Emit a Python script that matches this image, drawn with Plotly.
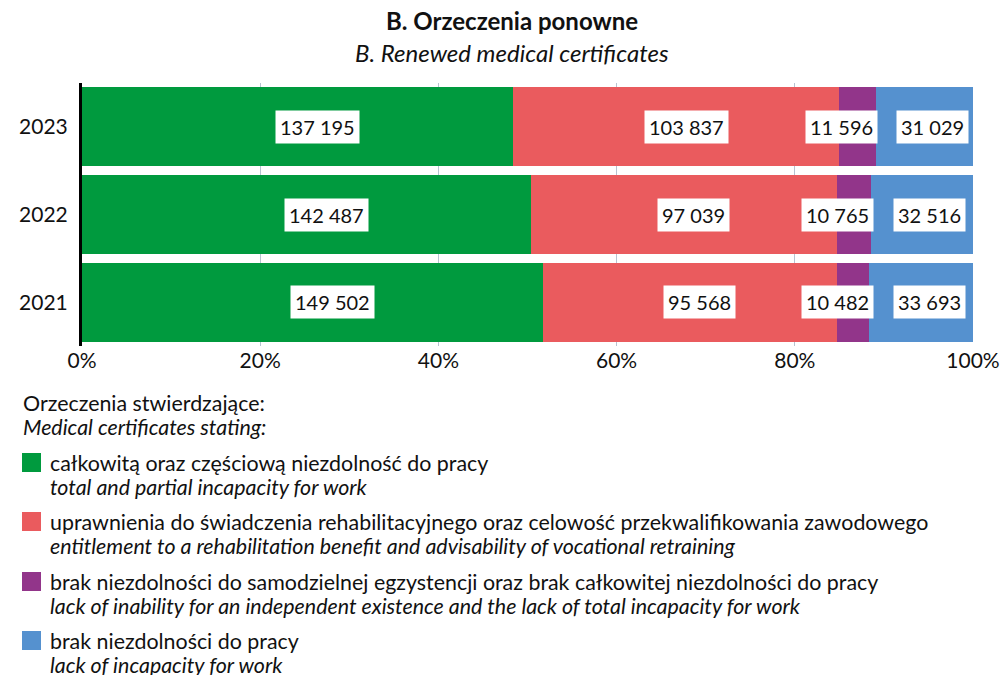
import numpy as np
import plotly.graph_objects as go

# --- data ---------------------------------------------------------------
years = ["2021", "2022", "2023"]

total_partial = [149502, 142487, 137195]
rehab_retraining = [95568, 97039, 103837]
no_independent_inability = [10482, 10765, 11596]
no_incapacity = [33693, 32516, 31029]

series_pl = [
    "całkowitą oraz częściową niezdolność do pracy",
    "uprawnienia do świadczenia rehabilitacyjnego oraz celowość przekwalifikowania zawodowego",
    "brak niezdolności do samodzielnej egzystencji oraz brak całkowitej niezdolności do pracy",
    "brak niezdolności do pracy",
]
series_en = [
    "total and partial incapacity for work",
    "entitlement to a rehabilitation benefit and advisability of vocational retraining",
    "lack of inability for an independent existence and the lack of total incapacity for work",
    "lack of incapacity for work",
]
colors = ["#009A3E", "#EA5B5E", "#92358A", "#5591CF"]

title_pl = "B. Orzeczenia ponowne"
title_en = "B. Renewed medical certificates"
legend_head_pl = "Orzeczenia stwierdzające:"
legend_head_en = "Medical certificates stating:"

x_ticks = [0, 0.2, 0.4, 0.6, 0.8, 1.0]

# --- layout geometry ----------------------------------------------------
W, H = 1007, 675
ML, MR, MT, MB = 82, 34, 83, 329
PW, PH = W - ML - MR, H - MT - MB
FONT = "Lato"
INK = "#111"
LEG_SIZE = 21.4


def px_x(px):
    return (px - ML) / PW


def px_y(py):
    return (H - MB - py) / PH


def text_line(x, y, text, size, anchor="left"):
    return dict(
        x=px_x(x), y=px_y(y), xref="paper", yref="paper",
        text=text, showarrow=False,
        font=dict(family=FONT, size=size, color=INK),
        xanchor=anchor, yanchor="middle",
    )


series = [total_partial, rehab_retraining, no_independent_inability, no_incapacity]
vals = np.array(series, dtype=float)
shares = vals / vals.sum(axis=0)          # share of each year's total
centers = np.cumsum(shares, axis=0) - shares / 2
label_shift = [20, 10, -16, 8]

fig = go.Figure()
for i, s in enumerate(series):
    fig.add_trace(go.Bar(
        y=years, x=[float(v) for v in shares[i]], orientation="h",
        name=series_pl[i], customdata=s,
        marker=dict(color=colors[i], line=dict(width=0)),
        hovertemplate="%{y}: %{customdata}<extra></extra>",
        showlegend=False,
    ))

annotations = []
for i, s in enumerate(series):
    for j in range(len(years)):
        # category axes place annotations by category index
        annotations.append(dict(
            x=float(centers[i, j]), y=j, xref="x", yref="y",
            text=f"{s[j]:,}".replace(",", " "),
            showarrow=False, xshift=label_shift[i],
            font=dict(family=FONT, size=20, color=INK),
            bgcolor="white", borderpad=4,
        ))

# titles
annotations.append(text_line(512, 20, f"<b>{title_pl}</b>", 24, "center"))
annotations.append(text_line(512, 52, f"<i>{title_en}</i>", 24, "center"))

# legend block
annotations.append(text_line(21, 403, legend_head_pl, LEG_SIZE))
annotations.append(text_line(21, 427, f"<i>{legend_head_en}</i>", LEG_SIZE))
shapes = []
item_top = [453, 512, 572, 631]
for i in range(4):
    top = item_top[i]
    shapes.append(dict(
        type="rect", xref="paper", yref="paper",
        x0=px_x(22), x1=px_x(41), y0=px_y(top), y1=px_y(top + 19),
        fillcolor=colors[i], line=dict(width=0),
    ))
    annotations.append(text_line(48, top + 10, series_pl[i], LEG_SIZE))
    annotations.append(text_line(48, top + 34, f"<i>{series_en[i]}</i>", LEG_SIZE))

fig.update_layout(
    width=W, height=H,
    margin=dict(l=ML, r=MR, t=MT, b=MB, pad=0, autoexpand=False),
    barmode="stack", bargap=0.1,
    plot_bgcolor="white", paper_bgcolor="white",
    font=dict(family=FONT, size=21, color=INK),
    annotations=annotations, shapes=shapes,
    xaxis=dict(
        range=[0, 1], tickvals=x_ticks, tickformat=".0%",
        showgrid=True, gridcolor="#B7C3D1", gridwidth=1,
        zeroline=False, showline=False, ticks="",
        tickfont=dict(family=FONT, size=21, color=INK),
        automargin=False, ticklabeloverflow="allow",
        fixedrange=True,
    ),
    yaxis=dict(
        type="category", categoryorder="array", categoryarray=years,
        range=[-0.5, 2.5],
        showline=True, linecolor="black", linewidth=3,
        showgrid=False, zeroline=False,
        ticks="outside", ticklen=7, tickcolor="rgba(0,0,0,0)",
        tickfont=dict(family=FONT, size=21, color=INK),
        automargin=False,
        fixedrange=True,
    ),
)

fig.write_html("out.html")
